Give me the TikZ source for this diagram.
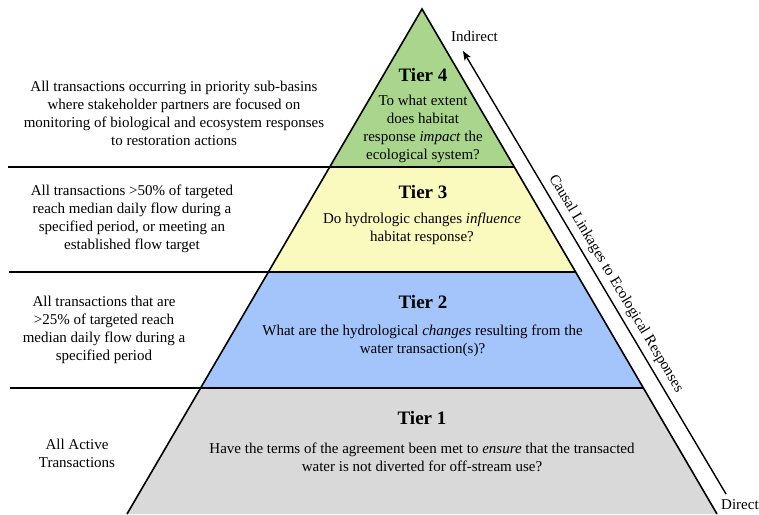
\documentclass[tikz,border=0pt]{standalone}
\usepackage{fontspec}
\setmainfont{Liberation Serif}
\usetikzlibrary{arrows.meta}
\definecolor{tgreen}{RGB}{169,214,140}
\definecolor{tyellow}{RGB}{250,250,190}
\definecolor{tblue}{RGB}{164,196,252}
\definecolor{tgray}{RGB}{217,217,217}
\tikzset{
  body/.style={align=center, font=\fontsize{15}{18}\selectfont, inner sep=0pt},
  tiertitle/.style={font=\fontsize{19}{22}\selectfont\bfseries, inner sep=0pt},
  sideline/.style={line width=1.6pt},
  edge/.style={line width=1.6pt},
  causal/.style={line width=1.4pt},
}
\begin{document}
\begin{tikzpicture}[x=1pt,y=-1pt]
\useasboundingbox (0,0) rectangle (759,514);
% key points
\coordinate (apex) at (422,9);
\coordinate (L4) at (329.7,167); \coordinate (R4) at (514.3,167);
\coordinate (L3) at (268.4,272); \coordinate (R3) at (575.6,272);
\coordinate (L2) at (200.6,388); \coordinate (R2) at (643.4,388);
\coordinate (L1) at (127,514);   \coordinate (R1) at (717,514);
% fills
\fill[tgreen] (apex) -- (R4) -- (L4) -- cycle;
\fill[tyellow] (L4) -- (R4) -- (R3) -- (L3) -- cycle;
\fill[tblue] (L3) -- (R3) -- (R2) -- (L2) -- cycle;
\fill[tgray] (L2) -- (R2) -- (R1) -- (L1) -- cycle;
% separator lines
\coordinate (S4) at (8,167);
\coordinate (S3) at (9,272);
\coordinate (S2) at (10,388);
\draw[sideline] (S4) -- (R4);
\draw[sideline] (S3) -- (R3);
\draw[sideline] (S2) -- (R2);
% pyramid edges
\draw[edge, line join=miter] (L1) -- (apex) -- (R1);
% tier texts
\node[tiertitle] (t4) at (423,75) {Tier 4};
\node[body] (q4) at (423,128.5) {To what extent\\does habitat\\response \textit{impact} the\\ecological system?};
\node[tiertitle] (t3) at (423,192) {Tier 3};
\node[body] (q3) at (422,229) {Do hydrologic changes \textit{influence}\\habitat response?};
\node[tiertitle] (t2) at (423,302) {Tier 2};
\node[body] (q2) at (422.5,340.5) {What are the hydrological \textit{changes} resulting from the\\water transaction(s)?};
\node[tiertitle] (t1) at (422,418) {Tier 1};
\node[body] (q1) at (422,457) {Have the terms of the agreement been met to \textit{ensure} that the transacted\\water is not diverted for off-stream use?};
% left texts
\node[body] (c4) at (174,113) {All transactions occurring in priority sub-basins\\where stakeholder partners are focused on\\monitoring of biological and ecosystem responses\\to restoration actions};
\node[body] (c3) at (132,218.5) {All transactions >50\% of targeted\\reach median daily flow during a\\specified period, or meeting an\\established flow target};
\node[body] (c2) at (104,330) {All transactions that are\\>25\% of targeted reach\\median daily flow during a\\specified period};
\node[body] (c1) at (77,453) {All Active\\Transactions};
% causal arrow
\coordinate (dirEnd) at (726,494);
\coordinate (indEnd) at (463,51);
\draw[causal, -{Stealth[length=9pt,width=7pt,inset=2pt]}] (dirEnd) -- node[body, sloped, above=5pt, pos=0.46] (cl) {Causal Linkages to Ecological Responses} (indEnd);
\node[body, anchor=west] (ind) at (451,36) {Indirect};
\node[body, anchor=west] (dir) at (721,505) {Direct};
\end{tikzpicture}
\end{document}
